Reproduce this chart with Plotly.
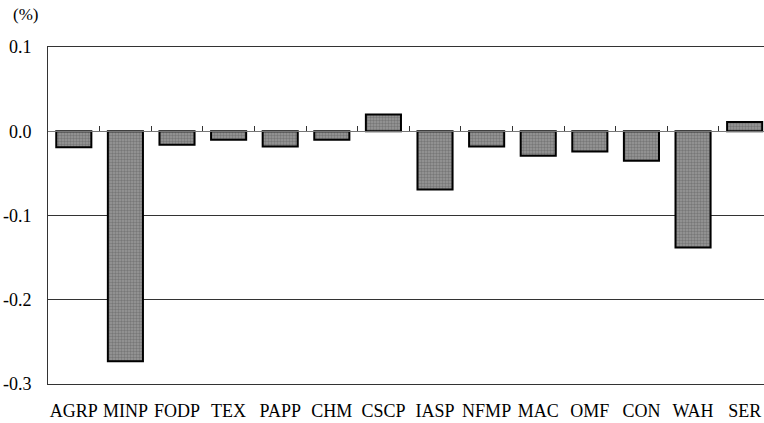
import plotly.graph_objects as go

categories = ["AGRP", "MINP", "FODP", "TEX", "PAPP", "CHM", "CSCP",
              "IASP", "NFMP", "MAC", "OMF", "CON", "WAH", "SER"]
values = [-0.019, -0.273, -0.016, -0.010, -0.018, -0.010, 0.020,
          -0.069, -0.018, -0.029, -0.024, -0.035, -0.138, 0.011]
y_tick_vals = [-0.3, -0.2, -0.1, 0.0, 0.1]
y_tick_text = ["-0.3", "-0.2", "-0.1", "0.0", "0.1"]
unit_label = "(%)"

FONT = "Liberation Serif"
LINE = "#333333"
x_range = [-0.5, 13.375]
positions = list(range(len(categories)))
boundaries = [p + 0.5 for p in positions[:-1]]

fig = go.Figure()
fig.add_trace(go.Bar(
    x=categories, y=values, width=0.68,
    marker=dict(color="#8c8c8c",
                line=dict(color="black", width=2),
                pattern=dict(shape=".", fgcolor="#555555", bgcolor="#999999",
                             size=3, solidity=0.5)),
    showlegend=False, hoverinfo="x+y",
))
# invisible trace populating the zero-line axis (category positions)
fig.add_trace(go.Scatter(
    x=positions, y=values, xaxis="x2", mode="markers",
    marker=dict(opacity=0), showlegend=False, hoverinfo="skip",
))

fig.update_layout(
    width=764, height=423,
    margin=dict(l=48, r=0, t=47, b=39, autoexpand=False),
    paper_bgcolor="white", plot_bgcolor="white",
    font=dict(family=FONT, size=18, color="black"),
    xaxis=dict(
        type="category", range=x_range, anchor="y", side="bottom",
        showline=True, linecolor=LINE, linewidth=1, mirror=True,
        ticks="", showgrid=False, zeroline=False, automargin=False,
        tickfont=dict(family=FONT, size=18, color="black"),
        ticklabelstandoff=10,
    ),
    xaxis2=dict(
        type="linear", range=x_range, overlaying="x", anchor="free",
        position=0.75, side="top", automargin=False,
        showline=True, linecolor="#777777", linewidth=1,
        tickmode="array", tickvals=boundaries,
        ticks="outside", ticklen=5, tickcolor=LINE, tickwidth=1,
        showticklabels=False, showgrid=False, zeroline=False,
    ),
    yaxis=dict(
        range=[-0.3, 0.1], tickmode="array",
        tickvals=y_tick_vals, ticktext=y_tick_text, automargin=False,
        showline=True, linecolor=LINE, linewidth=1,
        showgrid=True, gridcolor=LINE, gridwidth=1,
        zeroline=False, ticks="", ticklabelstandoff=12,
        tickfont=dict(family=FONT, size=18, color="black"),
    ),
    annotations=[dict(
        text=unit_label, xref="paper", yref="paper",
        x=-0.032, y=1.095, xanchor="center", yanchor="middle",
        showarrow=False, font=dict(family=FONT, size=17, color="black"),
    )],
)

fig.write_html("out.html", config={"displayModeBar": False},
               post_script="document.body.style.margin='0';")
